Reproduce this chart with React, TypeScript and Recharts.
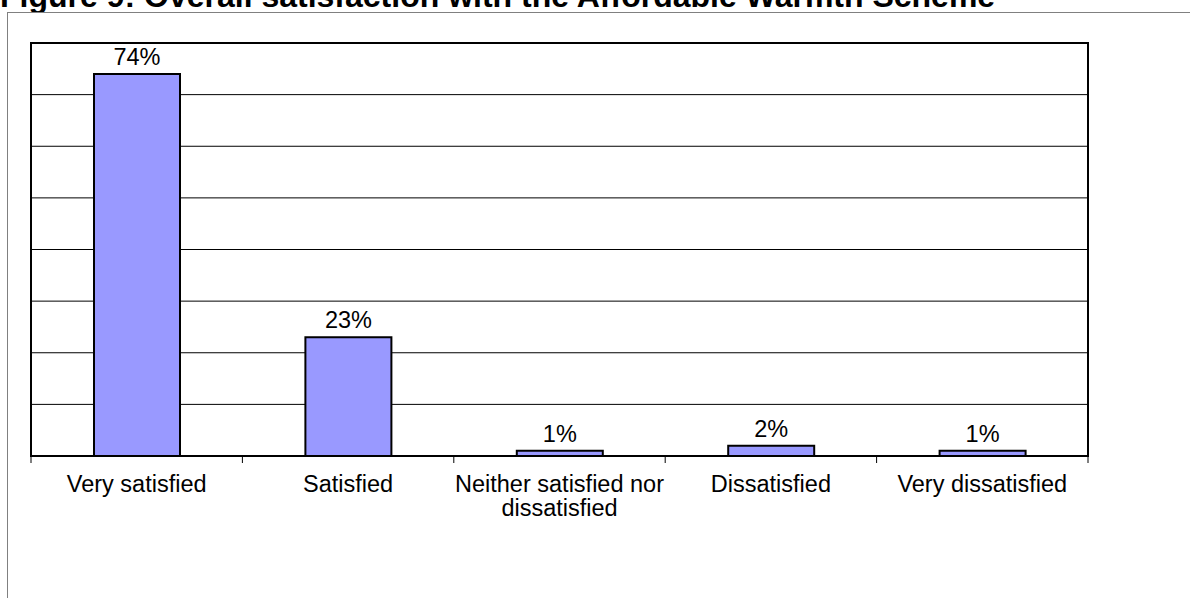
import React from 'react';
import {
  BarChart,
  Bar,
  XAxis,
  YAxis,
  CartesianGrid,
  LabelList,
  ReferenceArea,
} from 'recharts';

const categories = [
  'Very satisfied',
  'Satisfied',
  'Neither satisfied nor dissatisfied',
  'Dissatisfied',
  'Very dissatisfied',
];
const shares = [74, 23, 1, 2, 1];
const yTicks = [0, 10, 20, 30, 40, 50, 60, 70, 80];

const data = categories.map((name, i) => ({ name, value: shares[i] }));

const FONT = 'Arial, "Liberation Sans", sans-serif';
const PLOT_W = 1190 - 31 - 102;

// wrap long category names onto two lines like the original
function wrapLabel(label: string): string[] {
  if (label.length <= 20) return [label];
  const words = label.split(' ');
  const first = words.slice(0, words.length - 1).join(' ');
  return [first, words[words.length - 1]];
}

function CategoryTick(props: any) {
  const { x, y, payload, index, visibleTicksCount } = props;
  const lines = wrapLabel(payload.value);
  const half = payload.offset || PLOT_W / categories.length / 2;
  const isLast = index === (visibleTicksCount ?? categories.length) - 1;
  return (
    <g>
      <line x1={x - half} x2={x - half} y1={y} y2={y + 7} stroke="#000" strokeWidth={1} />
      {isLast && (
        <line x1={x + half} x2={x + half} y1={y} y2={y + 7} stroke="#000" strokeWidth={1} />
      )}
      <text x={x} y={y} textAnchor="middle" fontFamily={FONT} fontSize={23.5} fill="#000">
        {lines.map((line, i) => (
          <tspan key={i} x={x} dy={i === 0 ? 36 : 24}>
            {line}
          </tspan>
        ))}
      </text>
    </g>
  );
}

export default function App() {
  return (
    <div
      style={{
        position: 'absolute',
        left: 0,
        top: 0,
        width: 1190,
        height: 598,
        overflow: 'hidden',
        background: '#fff',
      }}
    >
      <div
        style={{
          position: 'absolute',
          left: 0,
          top: -20,
          fontFamily: FONT,
          fontWeight: 'bold',
          fontSize: 32,
          lineHeight: '32px',
          whiteSpace: 'nowrap',
          color: '#000',
        }}
      >
        Figure 9: Overall satisfaction with the Affordable Warmth Scheme
      </div>
      <div
        style={{
          position: 'absolute',
          left: 7,
          top: 12,
          width: 1300,
          height: 700,
          background: '#fff',
          borderTop: '1px solid #808080',
          borderLeft: '1px solid #808080',
        }}
      />
      <div style={{ position: 'absolute', left: 0, top: 0 }}>
        <BarChart
          width={1190}
          height={598}
          data={data}
          margin={{ top: 43, right: 102, bottom: 82, left: 31 }}
        >
          <CartesianGrid horizontal vertical={false} stroke="#000" strokeWidth={1} />
          <XAxis
            dataKey="name"
            type="category"
            tick={<CategoryTick />}
            tickLine={false}
            axisLine={false}
            tickSize={0}
            tickMargin={0}
            interval={0}
            height={60}
          />
          <YAxis hide domain={[0, 80]} ticks={yTicks} />
          <ReferenceArea
            y1={0}
            y2={80}
            fill="none"
            stroke="#000"
            strokeWidth={2}
            ifOverflow="visible"
          />
          <Bar
            dataKey="value"
            fill="#9999FF"
            stroke="#000"
            strokeWidth={2}
            barSize={86}
            isAnimationActive={false}
          >
            <LabelList
              dataKey="value"
              position="top"
              offset={9}
              formatter={(v: any) => `${v}%`}
              fontFamily={FONT}
              fontSize={23.5}
              fill="#000"
            />
          </Bar>
        </BarChart>
      </div>
    </div>
  );
}
